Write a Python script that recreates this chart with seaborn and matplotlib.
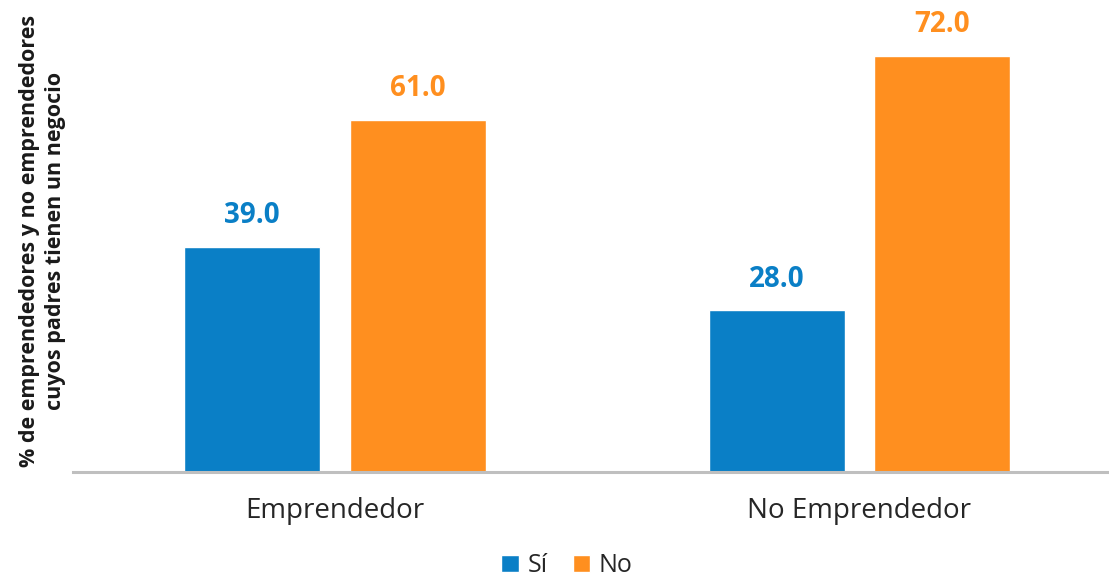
import matplotlib
matplotlib.use("Agg")
import matplotlib.pyplot as plt
import seaborn as sns
import pandas as pd

categories = ["Emprendedor", "No Emprendedor"]
series_names = ["Sí", "No"]
si_values = [39.0, 28.0]
no_values = [61.0, 72.0]
colors = ["#0A7FC6", "#FF8F1F"]

df = pd.DataFrame({
    "grupo": categories * 2,
    "respuesta": [series_names[0]] * 2 + [series_names[1]] * 2,
    "valor": si_values + no_values,
})

sns.set_theme(style="white")
plt.rcParams["font.family"] = ["Open Sans", "DejaVu Sans"]

fig = plt.figure(figsize=(11.09, 5.82), dpi=100)
ax = fig.add_axes([0.0658, 0.189, 0.9342, 0.794])

sns.barplot(data=df, x="grupo", y="valor", hue="respuesta",
            order=categories, hue_order=series_names,
            palette=colors, width=0.632, gap=0.18, saturation=1,
            errorbar=None, ax=ax)

# Value labels above each bar, coloured like their series
for container, col in zip(ax.containers, colors):
    ax.bar_label(container, fmt="%.1f", padding=12, color=col,
                 fontsize=20, fontweight="bold")

ax.set_xlim(-0.5, 1.476)
ax.set_ylim(0, 80)
ax.set_xlabel("")
ax.set_ylabel("% de emprendedores y no emprendedores\ncuyos padres tienen un negocio",
              fontsize=15.5, fontweight="bold", color="#1a1a1a", labelpad=5,
              linespacing=1.3)
ax.set_yticks([])
ax.tick_params(axis="x", length=0, labelsize=20, labelcolor="#262626", pad=18)
for s in ["top", "right", "left"]:
    ax.spines[s].set_visible(False)
ax.spines["bottom"].set_color("#BFBFBF")
ax.spines["bottom"].set_linewidth(2.2)

# Legend centred along the bottom edge of the figure
handles, labels = ax.get_legend_handles_labels()
ax.get_legend().remove()
fig.legend(handles, labels, loc="lower center", bbox_to_anchor=(567 / 1109, 0.0),
           ncol=2, frameon=False, fontsize=18, handlelength=0.7, handleheight=0.7,
           handletextpad=0.35, columnspacing=1.0, labelcolor="#262626",
           borderaxespad=0.0, borderpad=0.15)

fig.savefig("out.png", dpi=100)
